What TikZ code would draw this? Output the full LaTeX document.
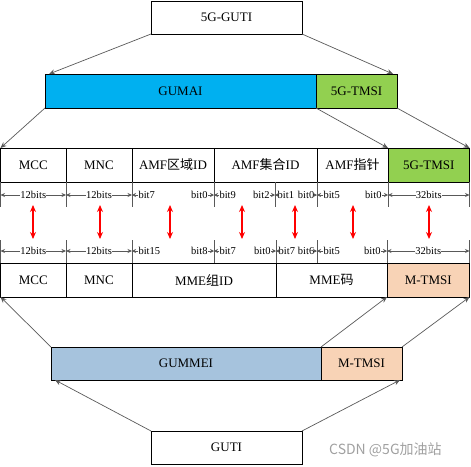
\documentclass[tikz,border=0pt]{standalone}
\usepackage{fontspec}
\setmainfont{Liberation Serif}
\newfontfamily\cjk{Noto Sans CJK SC}
\usetikzlibrary{arrows.meta}
\definecolor{gumaiblue}{HTML}{00B0F0}
\definecolor{tmsigreen}{HTML}{92D050}
\definecolor{gummeiblue}{HTML}{A6C3DD}
\definecolor{mtmsipeach}{HTML}{F8D3B6}
\definecolor{linegray}{HTML}{595959}
\definecolor{wmgray}{HTML}{A0A0A0}
\tikzset{
  box/.style={draw=black, line width=0.9pt, inner sep=0pt, outer sep=0pt, anchor=center, font=\fontsize{13}{15}\selectfont},
  link/.style={draw=linegray, line width=0.7pt, -{Stealth[length=6pt,width=5pt]}},
  tickline/.style={draw=linegray, line width=0.6pt},
  dim/.style={draw=linegray, line width=0.6pt, {Stealth[length=4.5pt,width=4pt]}-{Stealth[length=4.5pt,width=4pt]}},
  dimtip/.style={draw=linegray, line width=0.6pt, -{Stealth[length=4pt,width=4pt]}},
  bitlbl/.style={font=\fontsize{10.5}{12}\selectfont, inner sep=0.3pt, fill=white},
  maparrow/.style={draw=red, line width=1.2pt, {Stealth[length=7pt,width=6pt]}-{Stealth[length=7pt,width=6pt]}},
}
\newcommand{\bitpair}[6]{% left coord, right coord, left text, right text, name, offset
  \node[bitlbl, anchor=west] (#5l) at ([xshift=#6pt]#1) {#3};
  \node[bitlbl, anchor=east] (#5r) at ([xshift=-#6pt]#2) {#4};
  \draw[dimtip] (#5l.west) -- (#1);
  \draw[dimtip] (#5r.east) -- (#2);
}
\begin{document}
\begin{tikzpicture}[x=1pt,y=-1pt]
\useasboundingbox (0,0) rectangle (471,466);

% top
\node[box, minimum width=151pt, minimum height=33pt] (guti5g) at (226.5,17.5) {5G-GUTI};
\node[box, fill=gumaiblue, minimum width=271pt, minimum height=34pt] (gumai) at (180.5,91) {GUMAI};
\node[box, fill=tmsigreen, minimum width=81pt, minimum height=34pt] (tmsi5g) at (356.5,91) {5G-TMSI};

% row 1
\node[box, minimum width=65.5pt, minimum height=34pt] (mcc1) at (33.25,165) {MCC};
\node[box, minimum width=66pt, minimum height=34pt] (mnc1) at (99,165) {MNC};
\node[box, minimum width=82pt, minimum height=34pt] (amfr) at (173,165) {AMF{\cjk 区域}ID};
\node[box, minimum width=103pt, minimum height=34pt] (amfs) at (265.5,165) {AMF{\cjk 集合}ID};
\node[box, minimum width=71pt, minimum height=34pt] (amfp) at (352.5,165) {AMF{\cjk 指针}};
\node[box, fill=tmsigreen, minimum width=81.5pt, minimum height=34pt] (tmsi1) at (428.75,165) {5G-TMSI};

% row 2
\node[box, minimum width=65.5pt, minimum height=34pt] (mcc2) at (33.25,280) {MCC};
\node[box, minimum width=66pt, minimum height=34pt] (mnc2) at (99,280) {MNC};
\node[box, minimum width=144pt, minimum height=34pt] (mmeg) at (204,280) {MME{\cjk 组}ID};
\node[box, minimum width=111pt, minimum height=34pt] (mmec) at (331.5,280) {MME{\cjk 码}};
\node[box, fill=mtmsipeach, minimum width=82.5pt, minimum height=34pt] (mtmsi2) at (428.25,280) {M-TMSI};

% bottom
\node[box, fill=gummeiblue, minimum width=270pt, minimum height=33pt] (gummei) at (186,363.5) {GUMMEI};
\node[box, fill=mtmsipeach, minimum width=81pt, minimum height=33pt] (mtmsi) at (361.5,363.5) {M-TMSI};
\node[box, minimum width=151pt, minimum height=33pt] (guti) at (226.5,447.5) {GUTI};

% links
\draw[link] (guti5g.south west) -- ([xshift=4pt]gumai.north west);
\draw[link] (guti5g.south east) -- ([xshift=-4pt]tmsi5g.north east);
\draw[link] (gumai.south west) -- (mcc1.north west);
\draw[link] (gumai.south east) -- (tmsi1.north west);
\draw[link] (tmsi5g.south east) -- (tmsi1.north east);
\draw[link] (gummei.north west) -- (mcc2.south west);
\draw[link] (gummei.north east) -- (mmec.south east);
\draw[link] (mtmsi.north east) -- (mtmsi2.south east);
\draw[link] (guti.north west) -- ([xshift=4pt]gummei.south west);
\draw[link] (guti.north east) -- ([xshift=-2pt]mtmsi.south east);

% ticks
\foreach \x [count=\i] in {0.5,66,132,214,275,317,388,469.5}{
  \coordinate (p\i) at (\x,195);
  \draw[tickline] (\x,182) -- (\x,207);
}
\foreach \x [count=\i] in {0.5,66,132,214,276,317,387,469.5}{
  \coordinate (q\i) at (\x,251);
  \draw[tickline] (\x,240) -- (\x,263);
}

% bit labels row 1
\draw[dim] (p1) -- (p2) node[bitlbl, midway] (ba1) {12bits};
\draw[dim] (p2) -- (p3) node[bitlbl, midway] (ba2) {12bits};
\bitpair{p3}{p4}{bit7}{bit0}{ba3}{6}
\bitpair{p4}{p5}{bit9}{bit2}{ba4}{5}
\bitpair{p5}{p6}{bit1}{bit0}{ba5}{2.2}
\bitpair{p6}{p7}{bit5}{bit0}{ba6}{6}
\draw[dim] (p7) -- (p8) node[bitlbl, midway] (ba7) {32bits};

% bit labels row 2
\draw[dim] (q1) -- (q2) node[bitlbl, midway] (bb1) {12bits};
\draw[dim] (q2) -- (q3) node[bitlbl, midway] (bb2) {12bits};
\bitpair{q3}{q4}{bit15}{bit8}{bb3}{6}
\bitpair{q4}{q5}{bit7}{bit0}{bb4}{5}
\bitpair{q5}{q6}{bit7}{bit6}{bb5}{2.2}
\bitpair{q6}{q7}{bit5}{bit0}{bb6}{6}
\draw[dim] (q7) -- (q8) node[bitlbl, midway] (bb7) {32bits};

% red mapping arrows
\foreach \x [count=\i] in {33,100,170,242,295,353,429}{
  \coordinate (rt\i) at (\x,205);
  \coordinate (rb\i) at (\x,239);
  \draw[maparrow] (rt\i) -- (rb\i);
}

% watermark
\node[font=\cjk\fontsize{14}{15}\selectfont, text=wmgray, anchor=west, inner sep=0pt] (wm) at (329,450) {CSDN @5G加油站};
\end{tikzpicture}
\end{document}
